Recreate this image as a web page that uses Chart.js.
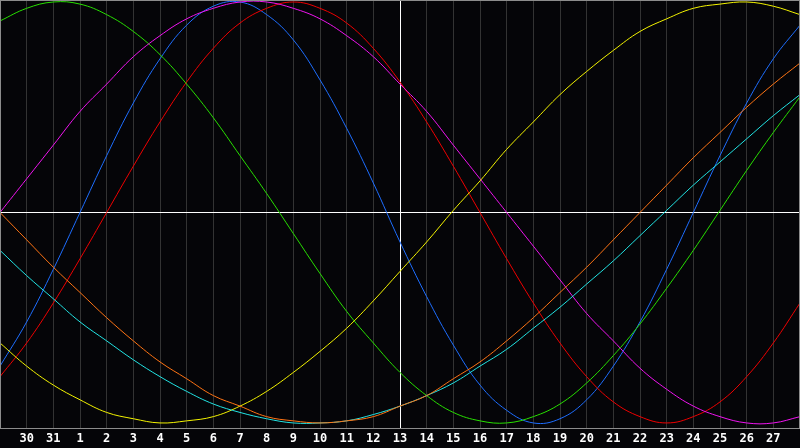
<!DOCTYPE html>
<html>
<head>
<meta charset="utf-8">
<script src="https://cdn.jsdelivr.net/npm/chart.js@4/dist/chart.umd.min.js"></script>
<style>
  html, body { margin: 0; padding: 0; background: #050508; }
  #wrap { width: 800px; height: 448px; }
</style>
</head>
<body>
<div id="wrap"><canvas id="bioChart" width="800" height="448"></canvas></div>
<script>
// day labels along the bottom (first and last are off the visible ticks)
const dayLabels = ['29', '30', '31', '1', '2', '3', '4', '5', '6', '7', '8', '9', '10', '11', '12',
    '13', '14', '15', '16', '17', '18', '19', '20', '21', '22', '23', '24', '25', '26', '27', '28'];

// values, one per day, in percent
const physical = [-73, -52, -27, 0, 27, 52, 73, 89, 98, 100, 94, 82, 63, 40, 14,
    -14, -40, -63, -82, -94, -100, -98, -89, -73, -52, -27, 0, 27, 52, 73, 89];
const emotional = [-78, -62, -43, -22, 0, 22, 43, 62, 78, 90, 97, 100, 97, 90, 78,
    62, 43, 22, 0, -22, -43, -62, -78, -90, -97, -100, -97, -90, -78, -62, -43];
const intellectual = [91, 97, 100, 99, 94, 86, 75, 61, 45, 27, 9, -10, -29, -47, -62,
    -76, -87, -95, -99, -100, -97, -91, -81, -68, -53, -36, -18, 1, 20, 38, 55];
const intuitive = [0, 16, 32, 48, 61, 74, 84, 92, 97, 100, 100, 97, 92, 84, 74,
    61, 48, 32, 16, 0, -16, -32, -48, -61, -74, -84, -92, -97, -100, -100, -97];
const aesthetic = [-62, -73, -82, -89, -95, -98, -100, -99, -97, -92, -85, -76, -66, -55, -42,
    -28, -14, 1, 15, 30, 43, 56, 67, 77, 86, 92, 97, 99, 100, 98, 94];
const awareness = [0, -13, -26, -38, -50, -61, -71, -79, -87, -92, -97, -99, -100, -99, -97,
    -92, -87, -79, -71, -61, -50, -38, -26, -13, 0, 13, 26, 38, 50, 61, 71];
const spiritual = [-18, -30, -41, -52, -61, -70, -78, -85, -91, -95, -98, -100, -100, -99, -96,
    -92, -87, -81, -73, -65, -55, -45, -34, -23, -11, 1, 13, 24, 35, 46, 56];

function series(data, color) {
    return {
        data: data,
        borderColor: color,
        borderWidth: 1,
        pointRadius: 0,
        fill: false,
        tension: 0.4
    };
}

// grey frame round the plot
const framePlugin = {
    id: 'frame',
    afterDraw(chart) {
        const a = chart.chartArea;
        const ctx = chart.ctx;
        ctx.save();
        ctx.strokeStyle = '#8c8c8c';
        ctx.lineWidth = 1;
        ctx.strokeRect(a.left + 0.5, a.top + 0.5, a.right - a.left - 1, a.bottom - a.top);
        ctx.restore();
    }
};

new Chart(document.getElementById('bioChart'), {
    type: 'line',
    data: {
        labels: dayLabels,
        datasets: [
            series(awareness, '#ff7414'),
            series(spiritual, '#22e4e4'),
            series(aesthetic, '#f4f400'),
            series(intuitive, '#f014f0'),
            series(intellectual, '#28e000'),
            series(emotional, '#f00000'),
            series(physical, '#1e6eff')
        ]
    },
    options: {
        responsive: false,
        animation: false,
        devicePixelRatio: 1,
        layout: { padding: 0, autoPadding: false },
        plugins: {
            legend: { display: false },
            tooltip: { enabled: false }
        },
        scales: {
            x: {
                type: 'category',
                offset: false,
                border: { display: false },
                grid: {
                    tickLength: 0,
                    color: (c) => {
                        if (c.index === 0 || c.index === dayLabels.length - 1) return 'transparent';
                        return c.index === 15 ? '#ffffff' : '#333333';
                    }
                },
                ticks: {
                    autoSkip: false,
                    maxRotation: 0,
                    padding: 4,
                    color: '#ffffff',
                    font: { family: 'DejaVu Sans Mono', size: 12, weight: 'bold' },
                    callback: function(val, i) {
                        return (i === 0 || i === dayLabels.length - 1) ? '' : dayLabels[i];
                    }
                },
                afterFit: (scale) => {
                    scale.height = 20;
                    scale.paddingLeft = 0;
                    scale.paddingRight = 0;
                }
            },
            y: {
                min: -102.4,
                max: 100.95,
                border: { display: false },
                grid: {
                    tickLength: 0,
                    color: (c) => c.tick && c.tick.value === 0 ? '#ffffff' : 'transparent'
                },
                ticks: { display: false, stepSize: 50 },
                afterFit: (scale) => {
                    scale.width = 0;
                    scale.paddingTop = 0;
                    scale.paddingBottom = 0;
                }
            }
        }
    },
    plugins: [framePlugin]
});
</script>
</body>
</html>
